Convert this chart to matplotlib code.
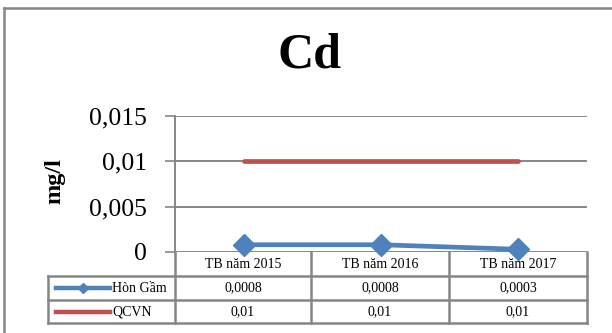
import matplotlib.pyplot as plt
from matplotlib.lines import Line2D

# data
categories = ['TB năm 2015', 'TB năm 2016', 'TB năm 2017']
hon_gam = [0.0008, 0.0008, 0.0003]
qcvn = [0.01, 0.01, 0.01]
hon_gam_txt = ['0,0008', '0,0008', '0,0003']
qcvn_txt = ['0,01', '0,01', '0,01']
series_names = ['Hòn Gầm', 'QCVN']
yticks = [0, 0.005, 0.01, 0.015]
ytick_labels = ['0', '0,005', '0,01', '0,015']

serif = ['Liberation Serif', 'DejaVu Serif']
plt.rcParams['font.family'] = serif

W, H = 612, 333
fig = plt.figure(figsize=(W / 100, H / 100), dpi=100)

def fx(x):
    return x / W

def fy(y):
    return 1 - y / H

grey = '#868686'
blue = '#4F81BD'
red = '#C0504D'

# outer frame (top and left visible)
fig.add_artist(Line2D([fx(4), fx(612)], [fy(8), fy(8)], color=grey, lw=1.8))
fig.add_artist(Line2D([fx(4), fx(4)], [fy(8), fy(333)], color=grey, lw=1.8))

x0, x1 = 175, 587
ytop, ybot = 116, 252
ax = fig.add_axes([fx(x0), fy(ybot), fx(x1 - x0), (ybot - ytop) / H])
ax.set_xlim(-0.5, 2.5)
ax.set_ylim(0, 0.015)
ax.set_yticks(yticks)
ax.set_yticklabels(ytick_labels, fontsize=18.5)
ax.set_xticks([])
ax.tick_params(axis='y', length=7, width=1.2, color=grey, pad=13)
for s in ['top', 'right', 'bottom']:
    ax.spines[s].set_visible(False)
ax.spines['left'].set_color(grey)
ax.spines['left'].set_linewidth(1.4)
ax.grid(axis='y', color=grey, lw=1.4)
ax.set_axisbelow(True)

xs = range(len(categories))
ax.plot(xs, qcvn, color=red, lw=3.4, solid_capstyle='round', clip_on=False, zorder=3)
ax.plot(xs, hon_gam, color=blue, lw=3.4, marker='D', ms=11, clip_on=False, zorder=4)

ax.set_ylabel('mg/l', fontsize=17.5, fontweight='bold')
ax.yaxis.set_label_coords((65 - x0) / (x1 - x0), 0.52)

fig.text(fx(310), fy(56), 'Cd', fontsize=36, fontweight='bold', ha='center', va='center')

# data table below the plot
tl = 1.8
col_x = [175, 311, 449, 587]
rows_y = [252, 276, 300, 323]
for y in rows_y[1:]:
    fig.add_artist(Line2D([fx(48), fx(587)], [fy(y), fy(y)], color=grey, lw=tl))
fig.add_artist(Line2D([fx(48), fx(48)], [fy(276), fy(323)], color=grey, lw=tl))
for x in col_x:
    fig.add_artist(Line2D([fx(x), fx(x)], [fy(252), fy(323)], color=grey, lw=tl))

for i, cat in enumerate(categories):
    cx = (col_x[i] + col_x[i + 1]) / 2
    fig.text(fx(cx), fy(264), cat, fontsize=10, ha='center', va='center')
    fig.text(fx(cx), fy(288), hon_gam_txt[i], fontsize=10, ha='center', va='center')
    fig.text(fx(cx), fy(312), qcvn_txt[i], fontsize=10, ha='center', va='center')

# legend keys inside the table
fig.add_artist(Line2D([fx(56), fx(110)], [fy(288), fy(288)], color=blue, lw=3.2))
fig.add_artist(Line2D([fx(83)], [fy(288)], color=blue, marker='D', ms=5.5, lw=0))
fig.add_artist(Line2D([fx(56), fx(110)], [fy(312), fy(312)], color=red, lw=3.2))
fig.text(fx(112), fy(288), series_names[0], fontsize=10, ha='left', va='center')
fig.text(fx(112), fy(312), series_names[1], fontsize=10, ha='left', va='center')

fig.savefig('out.png', dpi=100)
